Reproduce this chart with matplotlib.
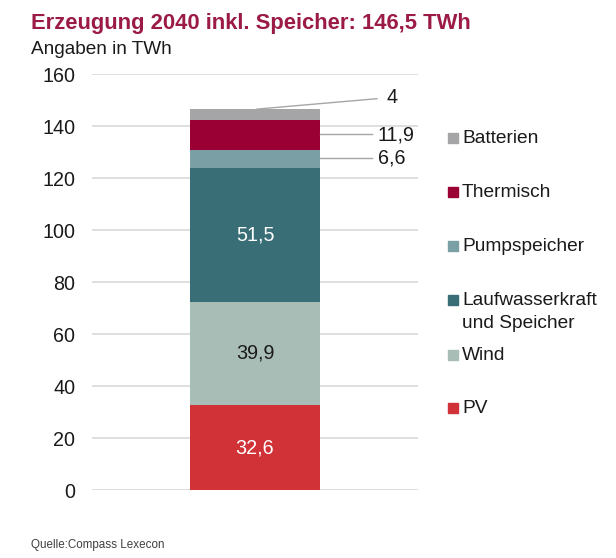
import matplotlib
matplotlib.use("Agg")
import matplotlib.pyplot as plt
from matplotlib.patches import Rectangle

plt.rcParams['font.family'] = ['Liberation Sans', 'DejaVu Sans']

categories = ["PV", "Wind", "Laufwasserkraft\nund Speicher", "Pumpspeicher", "Thermisch", "Batterien"]
values = [32.6, 39.9, 51.5, 6.6, 11.9, 4.0]
value_labels = ["32,6", "39,9", "51,5", "6,6", "11,9", "4"]
colors = ["#D03238", "#A8BDB5", "#3A6E77", "#7A9FA4", "#9A0034", "#A5A5A7"]
yticks = [0, 20, 40, 60, 80, 100, 120, 140, 160]

title = "Erzeugung 2040 inkl. Speicher: 146,5 TWh"
subtitle = "Angaben in TWh"
source = "Quelle:Compass Lexecon"

fig = plt.figure(figsize=(6.16, 5.58), dpi=100)
ax = fig.add_axes([92/616, 1 - 490/558, 326/616, (490 - 74)/558])

bottom = 0.0
bx, bw = 0.5, 0.40
for v, c in zip(values, colors):
    ax.bar(bx, v, width=bw, bottom=bottom, color=c, zorder=3, linewidth=0)
    bottom += v

ax.set_xlim(0, 1)
ax.set_ylim(0, 160)
ax.set_yticks(yticks)
ax.set_yticklabels([str(t) for t in yticks], fontsize=14.2, color="#1a1a1a")
ax.set_xticks([])
for s in ax.spines.values():
    s.set_visible(False)
ax.tick_params(axis='y', length=0, pad=12)
ax.yaxis.grid(True, color="#D9D9D9", linewidth=1.2, zorder=0)

# inside labels
cum = 0.0
for i, v in enumerate(values):
    mid = cum + v / 2
    if i < 3:
        tc = "white" if i in (0, 2) else "#1a1a1a"
        ax.text(bx, mid, value_labels[i], ha='center', va='center',
                fontsize=14.2, color=tc, zorder=4)
    cum += v

# outside labels with leader lines
total = sum(values)
starts = [sum(values[:i]) for i in range(len(values))]
line_col = "#A6A6A6"
# Pumpspeicher
mid_p = starts[3] + values[3] / 2 + 0.5
ax.plot([bx + bw / 2, 0.86], [mid_p, mid_p], color=line_col, lw=1.0, zorder=4, clip_on=False)
ax.text(0.876, mid_p, value_labels[3], ha='left', va='center', fontsize=14.2, color="#1a1a1a")
# Thermisch
mid_t = starts[4] + values[4] / 2 + 0.4
ax.plot([bx + bw / 2, 0.86], [mid_t, mid_t], color=line_col, lw=1.0, zorder=4, clip_on=False)
ax.text(0.876, mid_t - 0.5, value_labels[4], ha='left', va='center', fontsize=14.2, color="#1a1a1a")
# Batterien
ax.plot([0.506, 0.874], [total, total + 4.0], color=line_col, lw=1.0, zorder=4, clip_on=False)
ax.text(0.902, total + 4.3, value_labels[5], ha='left', va='center', fontsize=14.2, color="#1a1a1a")

# legend (manual)
leg_order = [5, 4, 3, 2, 1, 0]
leg_base = [143, 197, 251, 305, 360, 413]
for idx, yb in zip(leg_order, leg_base):
    fig.patches.append(Rectangle((448/616, 1 - yb/558), 10/616, 10/558,
                                 transform=fig.transFigure, color=colors[idx], figure=fig))
    for k, line in enumerate(categories[idx].split("\n")):
        fig.text(462/616, 1 - (yb + 23 * k)/558, line,
                 ha='left', va='baseline', fontsize=13.8, color="#1a1a1a")

fig.text(31/616, 1 - 29/558, title, ha='left', va='baseline', fontsize=15.8,
         fontweight='bold', color="#9B1B46")
fig.text(31/616, 1 - 54/558, subtitle, ha='left', va='baseline', fontsize=13.7, color="#1a1a1a")
fig.text(31/616, 1 - 548/558, source, ha='left', va='baseline', fontsize=8.4, color="#404040")

fig.savefig("out.png", dpi=100)
